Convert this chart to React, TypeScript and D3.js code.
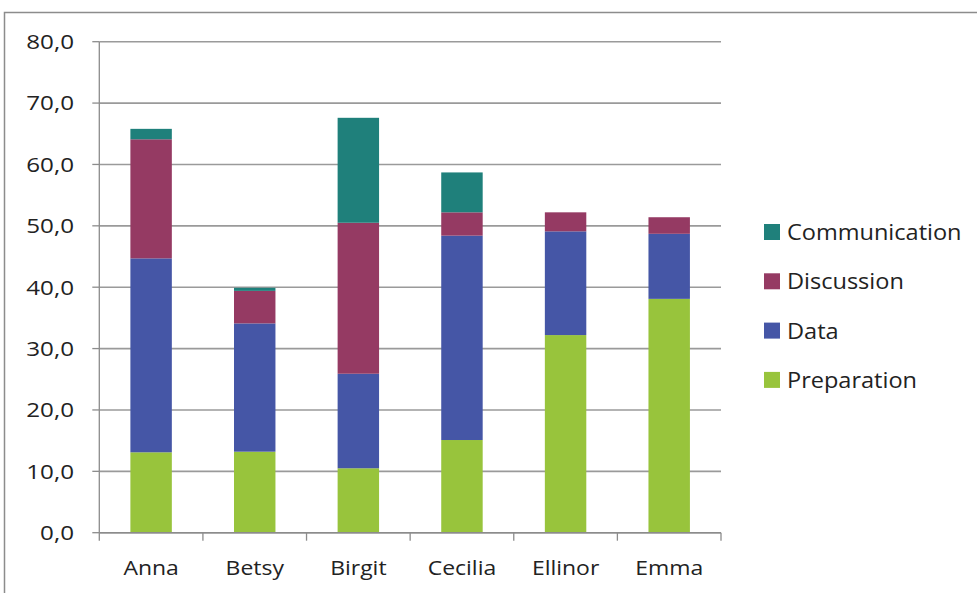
import React from "react";
import * as d3 from "d3";

const categories = ["Anna", "Betsy", "Birgit", "Cecilia", "Ellinor", "Emma"];
const seriesNames = ["Preparation", "Data", "Discussion", "Communication"];
const preparation = [13.1, 13.2, 10.5, 15.1, 32.2, 38.1];
const data = [31.6, 20.9, 15.4, 33.3, 16.9, 10.6];
const discussion = [19.4, 5.3, 24.6, 3.8, 3.1, 2.7];
const communication = [1.7, 0.5, 17.1, 6.5, 0, 0];
const yTicks = [0, 10, 20, 30, 40, 50, 60, 70, 80];

const colors: Record<string, string> = {
  Preparation: "#98C43C",
  Data: "#4556A6",
  Discussion: "#953A63",
  Communication: "#1F807B",
};

const W = 977;
const H = 593;
const FONT = "'Open Sans', Lato, sans-serif";

// Text drawn with a slight horizontal stretch
function Label(props: {
  x: number;
  y: number;
  size: number;
  sx: number;
  anchor: "start" | "middle" | "end";
  dy?: string;
  children: React.ReactNode;
}) {
  const { x, y, size, sx, anchor, dy, children } = props;
  return (
    <text
      transform={`translate(${x},${y}) scale(${sx},1)`}
      dy={dy}
      textAnchor={anchor}
      fontSize={size}
      fill="#222"
    >
      {children}
    </text>
  );
}

export default function App() {
  const left = 99.3;
  const right = 721;
  const top = 41.7;
  const bottom = 532.7;

  const x = d3.scaleBand<string>().domain(categories).range([left, right]).paddingInner(0.6).paddingOuter(0.3);
  const xOuter = d3.scaleBand<string>().domain(categories).range([left, right]);
  const y = d3.scaleLinear().domain([0, 80]).range([bottom, top]);

  const rows = categories.map((c, i) => ({
    name: c,
    Preparation: preparation[i],
    Data: data[i],
    Discussion: discussion[i],
    Communication: communication[i],
  }));
  const stacked = d3.stack<any>().keys(seriesNames)(rows);

  const legendOrder = ["Communication", "Discussion", "Data", "Preparation"];
  const fmt = (v: number) => v.toFixed(1).replace(".", ",");

  return (
    <svg width={W} height={H} style={{ position: "absolute", left: 0, top: 0, background: "#fff" }} fontFamily={FONT}>
      {/* chart frame */}
      <path d={`M4.5,${H} V12.5 H${W}`} fill="none" stroke="#8c8c8c" strokeWidth={1.5} />

      {/* gridlines */}
      {yTicks.map((t) => (
        <line key={"g" + t} x1={left} x2={right} y1={y(t)} y2={y(t)} stroke="#9a9a9a" strokeWidth={1.6} />
      ))}

      {/* y axis */}
      <line x1={left} x2={left} y1={top} y2={bottom} stroke="#8c8c8c" strokeWidth={1.3} />
      {yTicks.map((t) => (
        <g key={"yt" + t}>
          <line x1={left - 7} x2={left} y1={y(t)} y2={y(t)} stroke="#8c8c8c" strokeWidth={1.3} />
          <Label x={74} y={y(t)} dy="0.36em" anchor="end" size={20.5} sx={1.18}>
            {fmt(t)}
          </Label>
        </g>
      ))}

      {/* bars */}
      {stacked.map((s) => (
        <g key={s.key} fill={colors[s.key]}>
          {s.map((d, i) =>
            d[1] - d[0] > 0 ? (
              <rect
                key={i}
                x={x(categories[i])}
                width={x.bandwidth()}
                y={y(d[1])}
                height={y(d[0]) - y(d[1])}
              />
            ) : null
          )}
        </g>
      ))}

      {/* x axis */}
      <line x1={left} x2={right} y1={bottom} y2={bottom} stroke="#8c8c8c" strokeWidth={1.5} />
      {categories.map((c, i) => (
        <line
          key={"xt" + i}
          x1={xOuter(c)}
          x2={xOuter(c)}
          y1={bottom}
          y2={bottom + 8}
          stroke="#8c8c8c"
          strokeWidth={1.3}
        />
      ))}
      <line x1={right} x2={right} y1={bottom} y2={bottom + 8} stroke="#8c8c8c" strokeWidth={1.3} />
      {categories.map((c) => (
        <Label
          key={"xl" + c}
          x={(xOuter(c) as number) + xOuter.bandwidth() / 2}
          y={575}
          anchor="middle"
          size={20.5}
          sx={1.12}
        >
          {c}
        </Label>
      ))}

      {/* legend */}
      {legendOrder.map((k, i) => (
        <g key={"lg" + k} transform={`translate(764, ${232 + i * 49.3})`}>
          <rect x={0} y={-8} width={16} height={16} fill={colors[k]} />
          <Label x={23} y={0} dy="0.36em" anchor="start" size={22} sx={1.07}>
            {k}
          </Label>
        </g>
      ))}
    </svg>
  );
}
